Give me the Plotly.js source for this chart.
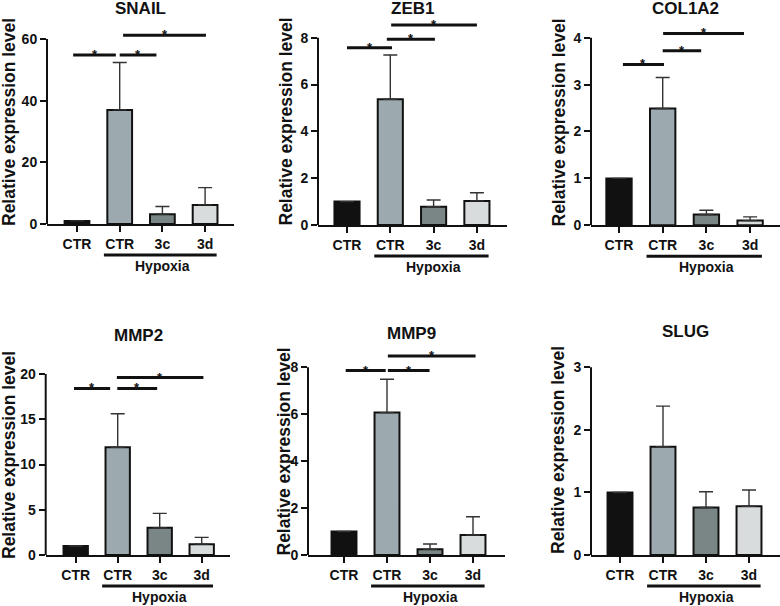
<!DOCTYPE html>
<html><head><meta charset="utf-8">
<script src="https://cdn.plot.ly/plotly-3.0.1.min.js"></script>
<style>html,body{margin:0;padding:0;background:#fff}#chart{width:780px;height:606px}</style>
</head><body><div id="chart"></div>
<script>
// ---------- data ----------
const categories = ['CTR', 'CTR', '3c', '3d'];
const genes = ['SNAIL', 'ZEB1', 'COL1A2', 'MMP2', 'MMP9', 'SLUG'];
const barColors = ['#111111', '#9ca9ae', '#798685', '#d9dcdc'];

const snailMean  = [1, 37.0, 3.2, 6.2];
const snailSD    = [0, 15.4, 2.5, 5.6];
const zeb1Mean   = [1, 5.37, 0.78, 1.03];
const zeb1SD     = [0, 1.89, 0.29, 0.35];
const col1a2Mean = [1, 2.49, 0.23, 0.10];
const col1a2SD   = [0, 0.66, 0.09, 0.08];
const mmp2Mean   = [1, 11.9, 3.0, 1.2];
const mmp2SD     = [0, 3.7, 1.6, 0.75];
const mmp9Mean   = [1, 6.07, 0.24, 0.85];
const mmp9SD     = [0, 1.42, 0.23, 0.78];
const slugMean   = [1, 1.73, 0.76, 0.78];
const slugSD     = [0, 0.65, 0.25, 0.26];

const yTickMax  = [60, 8, 4, 20, 8, 3];
const yTickStep = [20, 2, 1, 5, 2, 1];

// significance brackets: [from category, to category, height]
const snailSig  = [[-0.09, 0.91, 54.8], [1.0, 1.86, 54.8], [1.08, 3.02, 61.2]];
const zeb1Sig   = [[0.0, 1.04, 7.57], [0.92, 2.03, 7.93], [1.02, 3.0, 8.54]];
const col1a2Sig = [[0.09, 1.03, 3.43], [1.0, 1.88, 3.72], [1.01, 2.86, 4.09]];
const mmp2Sig   = [[-0.04, 0.82, 18.4], [0.99, 1.94, 18.4], [0.98, 3.04, 19.6]];
const mmp9Sig   = [[0.04, 0.97, 7.86], [1.02, 1.99, 7.86], [1.02, 3.06, 8.48]];
const slugSig   = [];

const groupLabel = 'Hypoxia';
const groupSpan = [0.63, 3.27];
const yTitleText = 'Relative expression level';

const means = [snailMean, zeb1Mean, col1a2Mean, mmp2Mean, mmp9Mean, slugMean];
const sds = [snailSD, zeb1SD, col1a2SD, mmp2SD, mmp9SD, slugSD];
const sigs = [snailSig, zeb1Sig, col1a2Sig, mmp2Sig, mmp9Sig, slugSig];

// ---------- panel geometry (pixels) ----------
const W = 780, H = 606;
const panels = [
  {axisX: 47,   right: 234, c0: 77,    sp: 42.7, y0: 224,   yTop: 39,    title: [140, 8],   ytitle: [9, 122]},
  {axisX: 318,  right: 507, c0: 347,   sp: 43.3, y0: 225,   yTop: 37.7,  title: [412, 8],   ytitle: [286, 121.5]},
  {axisX: 591,  right: 780, c0: 619,   sp: 43.7, y0: 225.3, yTop: 37.7,  title: [685, 8],   ytitle: [558, 122.5]},
  {axisX: 45.7, right: 230, c0: 75.7,  sp: 42,   y0: 555,   yTop: 374,   title: [138, 335], ytitle: [9, 455]},
  {axisX: 308,  right: 505, c0: 344,   sp: 43,   y0: 555,   yTop: 367.3, title: [411, 333], ytitle: [283, 451.5]},
  {axisX: 591,  right: 780, c0: 620,   sp: 43,   y0: 555,   yTop: 367.3, title: [685, 331], ytitle: [558, 450]}
];
const ext = 1.12;

const FONT = 'Liberation Sans, Arial, Helvetica, sans-serif';
const traces = [];
const layout = {
  width: W, height: H,
  margin: {l: 0, r: 0, t: 0, b: 0},
  paper_bgcolor: '#fff', plot_bgcolor: 'rgba(0,0,0,0)',
  showlegend: false,
  font: {family: FONT, color: '#111', weight: 'bold'},
  shapes: [], annotations: []
};

const px = v => v / W;
const py = v => 1 - v / H;

panels.forEach((p, i) => {
  const n = i === 0 ? '' : String(i + 1);
  const xa = 'x' + n, ya = 'y' + n;
  traces.push({
    type: 'bar',
    x: [0, 1, 2, 3],
    y: means[i],
    width: 0.58,
    marker: {color: barColors, line: {color: '#111', width: 2}},
    error_y: {type: 'data', symmetric: false, array: sds[i], arrayminus: [0, 0, 0, 0],
              color: '#333', thickness: 1.4, width: 7},
    xaxis: xa, yaxis: ya, hoverinfo: 'skip'
  });
  const yDomTopPx = p.y0 - (p.y0 - p.yTop) * ext;
  const ticks = [];
  for (let v = 0; v <= yTickMax[i] + 1e-9; v += yTickStep[i]) ticks.push(v);
  layout['xaxis' + n] = {
    domain: [px(p.axisX), px(p.right)],
    range: [(p.axisX - p.c0) / p.sp, (p.right - p.c0) / p.sp],
    anchor: ya, showgrid: false, zeroline: false,
    showline: true, linecolor: '#111', linewidth: 2,
    ticks: 'outside', ticklen: 6, tickwidth: 2, tickcolor: '#111',
    tickvals: [0, 1, 2, 3], ticktext: categories,
    tickfont: {size: 14, family: FONT, color: '#111', weight: 'bold'},
    fixedrange: true
  };
  layout['yaxis' + n] = {
    domain: [py(p.y0), py(yDomTopPx)],
    range: [0, yTickMax[i] * ext],
    anchor: xa, showgrid: false, zeroline: false, showline: false,
    ticks: 'outside', ticklen: 6, tickwidth: 2, tickcolor: '#111',
    tickvals: ticks, ticktext: ticks.map(String),
    tickfont: {size: 14, family: FONT, color: '#111', weight: 'bold'},
    fixedrange: true
  };
  // y axis line up to the top tick
  layout.shapes.push({type: 'line', xref: xa + ' domain', yref: ya, x0: 0, x1: 0, y0: 0, y1: yTickMax[i],
                      line: {color: '#111', width: 2}});
  // significance brackets
  sigs[i].forEach(s => {
    layout.shapes.push({type: 'line', xref: xa, yref: ya, x0: s[0], x1: s[1], y0: s[2], y1: s[2],
                        line: {color: '#111', width: 3}});
    layout.annotations.push({xref: xa, yref: ya, x: (s[0] + s[1]) / 2, y: s[2], text: '*',
                             showarrow: false, yanchor: 'bottom', yshift: -9,
                             font: {size: 13, family: FONT, color: '#111', weight: 'bold'}});
  });
  // group line + label
  layout.shapes.push({type: 'line', xref: xa, yref: 'paper', x0: groupSpan[0], x1: groupSpan[1],
                      y0: py(p.y0 + 31), y1: py(p.y0 + 31), line: {color: '#111', width: 3}});
  layout.annotations.push({xref: xa, yref: 'paper', x: 2.0, y: py(p.y0 + 42), text: groupLabel,
                           showarrow: false, xanchor: 'center', yanchor: 'middle',
                           font: {size: 14, family: FONT, color: '#111', weight: 'bold'}});
  // panel title
  layout.annotations.push({xref: 'paper', yref: 'paper', x: px(p.title[0]), y: py(p.title[1]),
                           text: genes[i], showarrow: false, xanchor: 'center', yanchor: 'middle',
                           font: {size: 17, family: FONT, color: '#111', weight: 'bold'}});
  // y title
  layout.annotations.push({xref: 'paper', yref: 'paper', x: px(p.ytitle[0]), y: py(p.ytitle[1]),
                           text: yTitleText, textangle: -90, showarrow: false,
                           xanchor: 'center', yanchor: 'middle',
                           font: {size: 17.5, family: FONT, color: '#111', weight: 'bold'}});
});

Plotly.newPlot('chart', traces, layout, {displayModeBar: false, staticPlot: true});
</script>
</body></html>
